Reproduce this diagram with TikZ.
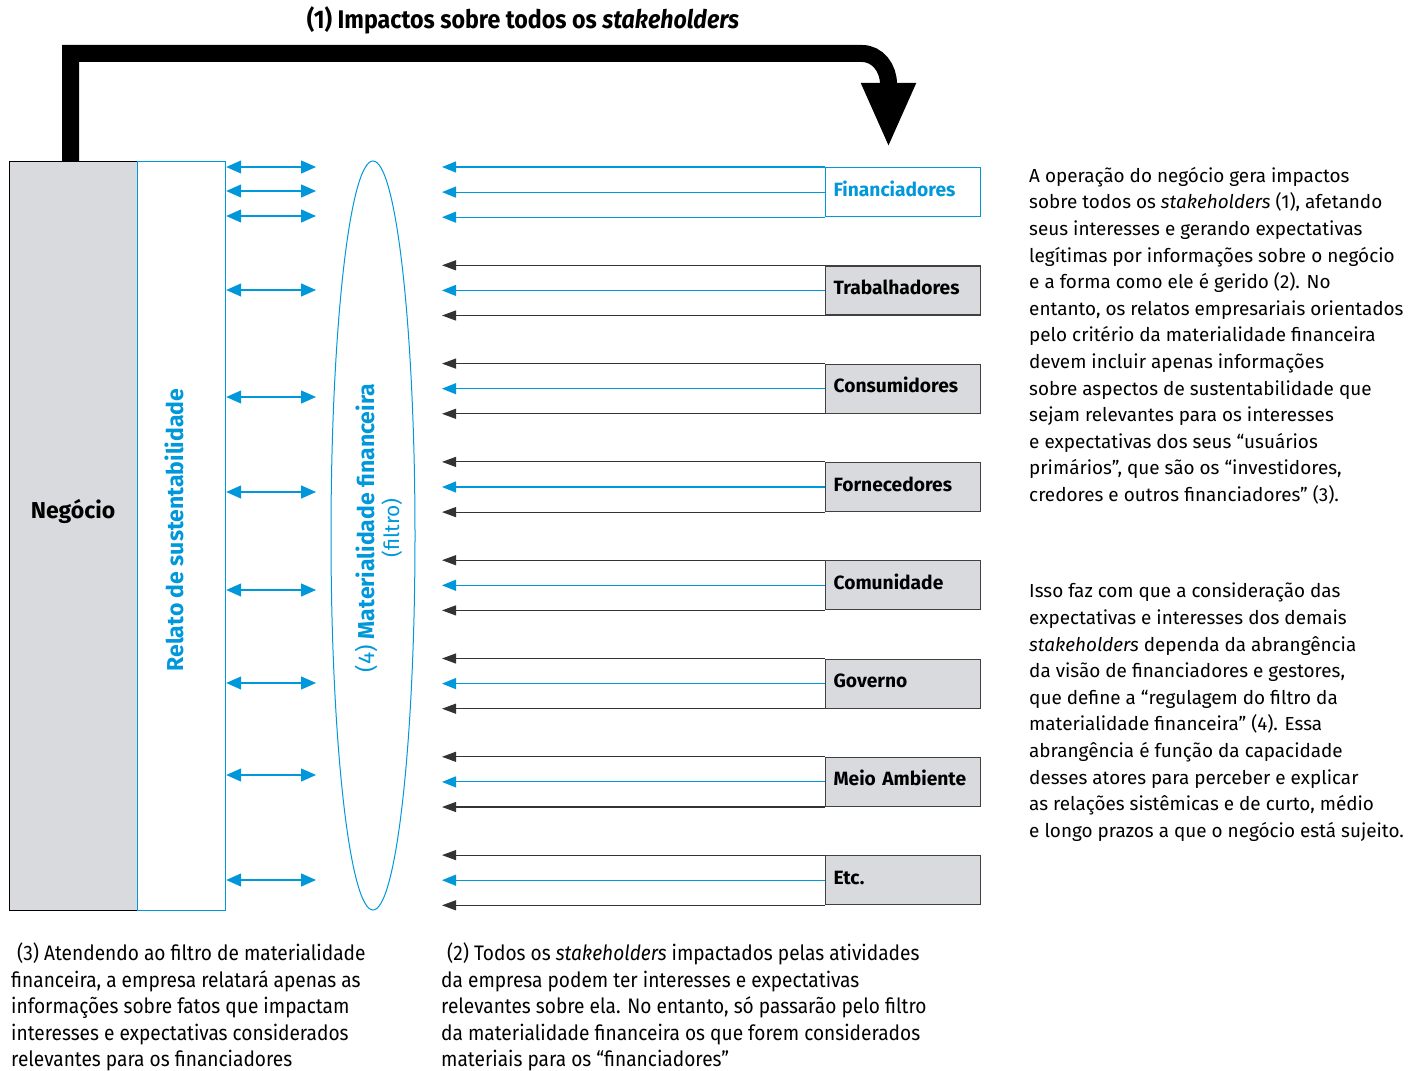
\documentclass[tikz,border=0pt]{standalone}
\usepackage{fontspec}
\setmainfont{Fira Sans}
\newfontfamily\condfont{Fira Sans}[FakeStretch=0.91]
\usetikzlibrary{arrows.meta,shapes.geometric,calc}
\definecolor{azul}{RGB}{0,152,218}
\definecolor{cinza}{RGB}{217,218,222}
\tikzset{
    caixa/.style={draw=black!75, fill=cinza, line width=1.2, anchor=north west,
        minimum height=49, text width=139, text height=13, text depth=5, inner xsep=8,
        inner ysep=0, align=left, font=\bfseries\fontsize{19.2}{21}\selectfont},
    preta/.style={draw=black!80, line width=1.1, -{Triangle[width=10pt,length=14pt]}},
    azulada/.style={draw=azul, line width=1.1, -{Triangle[width=11pt,length=14pt]}},
    dupla/.style={draw=azul, line width=1.3, {Triangle[width=13pt,length=15pt]}-{Triangle[width=13pt,length=15pt]}},
    grossa/.style={line width=17, -{Triangle[width=50pt,length=65pt]}},
    texto/.style={anchor=north west, inner sep=0, align=left, font=\fontsize{18.9}{26.6}\selectfont},
    legenda/.style={anchor=north west, inner sep=0, align=left, font=\condfont\fontsize{21}{26.5}\selectfont}
}
\begin{document}
\begin{tikzpicture}[x=1pt, y=-1pt]
    \useasboundingbox (0,0) rectangle (1423,1070);
    \node [draw=black, fill=cinza, line width=1.4, anchor=north west, minimum width=128,
        minimum height=749, inner sep=0] (neg) at (9,161) {};
    \node [font=\bfseries\fontsize{23}{26}\selectfont] (negtxt) at (73,511) {Negócio};
    \node [draw=azul, line width=1.2, anchor=north west, minimum width=88,
        minimum height=749, inner sep=0] (relato) at (137,161) {};
    \node [rotate=90, text=azul, font=\bfseries\fontsize{23}{26}\selectfont] (relatotxt) at (174,530)
        {Relato de sustentabilidade};
    \node [ellipse, draw=azul, line width=1, minimum width=84, minimum height=749,
        inner sep=0] (filtro) at (373,535.5) {};
    \node [rotate=90, text=azul, align=center, font=\fontsize{23}{25}\selectfont] (filtrotxt) at (378.5,528)
        {(4) \textbf{Materialidade financeira}\\{\fontsize{21}{22}\selectfont(filtro)}};
    \node [font=\condfont\bfseries\fontsize{25.5}{28}\selectfont] (titulo) at (523,20)
        {(1) Impactos sobre todos os \textit{stakeholders}};
    \coordinate (seta) at (888.5,148);
    \coordinate (ponta) at (442,0);
    \coordinate (meio-filtro) at (316,0);
    \draw [grossa] (neg.north -| 70.5,0) -- (70.5,53.5) -- (862,53.5)
        to[out=0, in=90] (888.5,84) -- (seta);
    \foreach \y in {167,191,216,290,397,492,590,683,775,880}
        \draw [dupla] (relato.east |- 0,\y) -- (meio-filtro |- 0,\y);
    \node [caixa, draw=azul, fill=white, text=azul] (fin) at (825,167) {Financiadores};
    \draw [azulada] (fin.north west) -- (ponta |- fin.north west);
    \draw [azulada] (fin.west) -- (ponta |- fin.west);
    \draw [azulada] (fin.south west) -- (ponta |- fin.south west);
    \foreach \nome/\rotulo [count=\i] in {trab/Trabalhadores, cons/Consumidores,
        forn/Fornecedores, comu/Comunidade, gov/Governo, meio/Meio Ambiente, etc/Etc.} {
        \pgfmathsetmacro{\topo}{167+98.3*\i}
        \node [caixa] (\nome) at (825,\topo) {\rotulo};
        \draw [preta] (\nome.north west) -- (ponta |- \nome.north west);
        \draw [azulada] (\nome.west) -- (ponta |- \nome.west);
        \draw [preta] (\nome.south west) -- (ponta |- \nome.south west);
    }
    \node [texto] (op) at (1029,167) {A operação do negócio gera impactos\\
        sobre todos os \textit{stakeholders} (1), afetando\\
        seus interesses e gerando expectativas\\
        legítimas por informações sobre o negócio\\
        e a forma como ele é gerido (2). No\\
        entanto, os relatos empresariais orientados\\
        pelo critério da materialidade financeira\\
        devem incluir apenas informações\\
        sobre aspectos de sustentabilidade que\\
        sejam relevantes para os interesses\\
        e expectativas dos seus “usuários\\
        primários”, que são os “investidores,\\
        credores e outros financiadores” (3).};
    \node [texto] (isso) at (1029,583) {Isso faz com que a consideração das\\
        expectativas e interesses dos demais\\
        \textit{stakeholders} dependa da abrangência\\
        da visão de financiadores e gestores,\\
        que define a “regulagem do filtro da\\
        materialidade financeira” (4). Essa\\
        abrangência é função da capacidade\\
        desses atores para perceber e explicar\\
        as relações sistêmicas e de curto, médio\\
        e longo prazos a que o negócio está sujeito.};
    \node [legenda] (leg3) at (11,943) {\hspace{6pt}(3) Atendendo ao filtro de materialidade\\
        financeira, a empresa relatará apenas as\\
        informações sobre fatos que impactam\\
        interesses e expectativas considerados\\
        relevantes para os financiadores};
    \node [legenda] (leg2) at (441,943) {\hspace{6pt}(2) Todos os \textit{stakeholders} impactados pelas atividades\\
        da empresa podem ter interesses e expectativas\\
        relevantes sobre ela. No entanto, só passarão pelo filtro\\
        da materialidade financeira os que forem considerados\\
        materiais para os “financiadores”};
\end{tikzpicture}
\end{document}
